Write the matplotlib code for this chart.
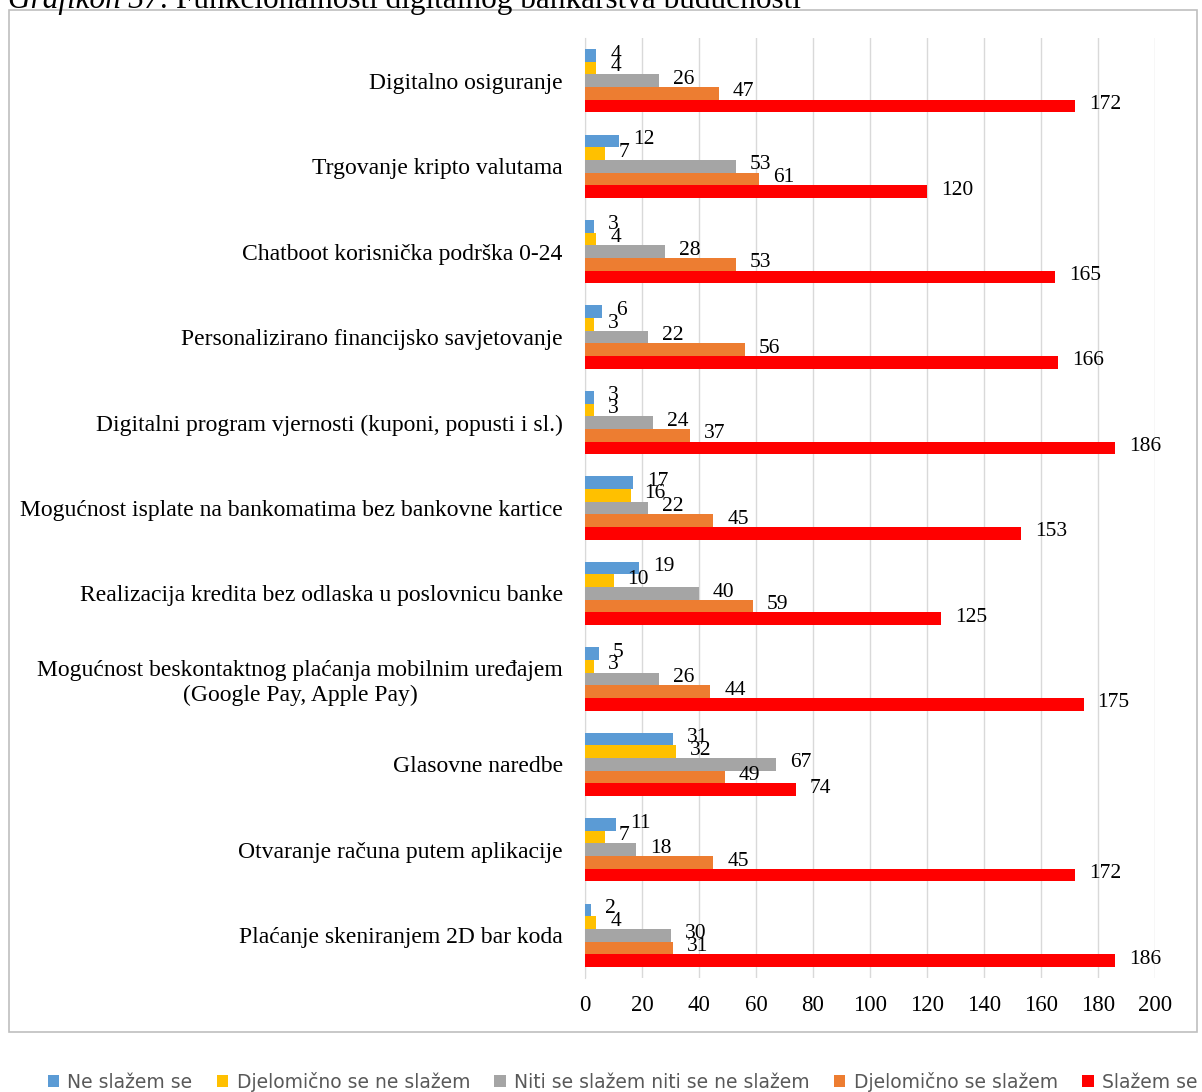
import matplotlib.pyplot as plt
import numpy as np
from matplotlib.patches import Rectangle

CATEGORIES = [
    "Digitalno osiguranje",
    "Trgovanje kripto valutama",
    "Chatboot korisnička podrška 0-24",
    "Personalizirano financijsko savjetovanje",
    "Digitalni program vjernosti (kuponi, popusti i sl.)",
    "Mogućnost isplate na bankomatima bez bankovne kartice",
    "Realizacija kredita bez odlaska u poslovnicu banke",
    "Mogućnost beskontaktnog plaćanja mobilnim uređajem\n(Google Pay, Apple Pay)",
    "Glasovne naredbe",
    "Otvaranje računa putem aplikacije",
    "Plaćanje skeniranjem 2D bar koda",
]

SERIES_NAMES = [
    "Ne slažem se",
    "Djelomično se ne slažem",
    "Niti se slažem niti se ne slažem",
    "Djelomično se slažem",
    "Slažem se",
]

NE_SLAZEM = [4, 12, 3, 6, 3, 17, 19, 5, 31, 11, 2]
DJELOMICNO_NE = [4, 7, 4, 3, 3, 16, 10, 3, 32, 7, 4]
NITI_NITI = [26, 53, 28, 22, 24, 22, 40, 26, 67, 18, 30]
DJELOMICNO_DA = [47, 61, 53, 56, 37, 45, 59, 44, 49, 45, 31]
SLAZEM = [172, 120, 165, 166, 186, 153, 125, 175, 74, 172, 186]

COLORS = ["#5B9BD5", "#FFC000", "#A5A5A5", "#ED7D31", "#FF0000"]
X_TICKS = list(range(0, 201, 20))

SERIF = ["Liberation Serif", "DejaVu Serif"]

fig = plt.figure(figsize=(12.02, 10.92), dpi=100)
ax = fig.add_axes([585 / 1202, 1 - 978 / 1092, 570 / 1202, 940 / 1092])

series = [NE_SLAZEM, DJELOMICNO_NE, NITI_NITI, DJELOMICNO_DA, SLAZEM]
n_cat = len(CATEGORIES)
y_centers = np.arange(n_cat)
bar_h = 0.148
offsets = (np.arange(5) - 2) * bar_h

for s, (vals, color, name) in enumerate(zip(series, COLORS, SERIES_NAMES)):
    ys = y_centers + offsets[s]
    ax.barh(ys, vals, height=bar_h, color=color, label=name, zorder=3)
    for y, v in zip(ys, vals):
        ax.annotate(str(v), (v, y), xytext=(10, 1), textcoords="offset points",
                    ha="left", va="center", fontsize=15.5, family=SERIF, zorder=4)

ax.set_ylim(n_cat - 0.5, -0.5)
ax.set_xlim(0, 200)
ax.set_xticks(X_TICKS)
ax.set_yticks(y_centers)
ax.set_yticklabels(CATEGORIES, family=SERIF, fontsize=17, multialignment="center")
for lbl in ax.get_xticklabels():
    lbl.set_family(SERIF)
    lbl.set_fontsize(16.5)
ax.tick_params(axis="both", length=0)
ax.tick_params(axis="y", pad=16)
ax.tick_params(axis="x", pad=12)
ax.grid(axis="x", color="#D9D9D9", linewidth=1, zorder=0)
for side in ["top", "right", "bottom"]:
    ax.spines[side].set_visible(False)
ax.spines["left"].set_color("#D9D9D9")

# outer chart border
fig.patches.append(Rectangle((9 / 1202, 1 - 1032 / 1092), 1188 / 1202, 1022 / 1092,
                             transform=fig.transFigure, fill=False,
                             edgecolor="#BFBFBF", linewidth=1.2))

# title, cut off at the top edge
t1 = fig.text(8 / 1202, 1 - 8 / 1092, "Grafikon 37:", family=SERIF, style="italic",
              fontsize=22.5, va="baseline", ha="left")
fig.canvas.draw()
bb = t1.get_window_extent()
fig.text(bb.x1 / 1202 + 6 / 1202, 1 - 8 / 1092,
         "Funkcionalnosti digitalnog bankarstva budućnosti",
         family=SERIF, fontsize=22.5, va="baseline", ha="left")

leg = fig.legend(loc="center", bbox_to_anchor=(0.518, 1 - 1082 / 1092), ncol=5,
                 frameon=False, handlelength=0.6, handleheight=0.6,
                 columnspacing=1.3, handletextpad=0.45,
                 prop={"family": ["Liberation Sans Narrow", "DejaVu Sans"], "size": 13.5})
for txt in leg.get_texts():
    txt.set_color("#595959")

fig.savefig("out.png", dpi=100)
